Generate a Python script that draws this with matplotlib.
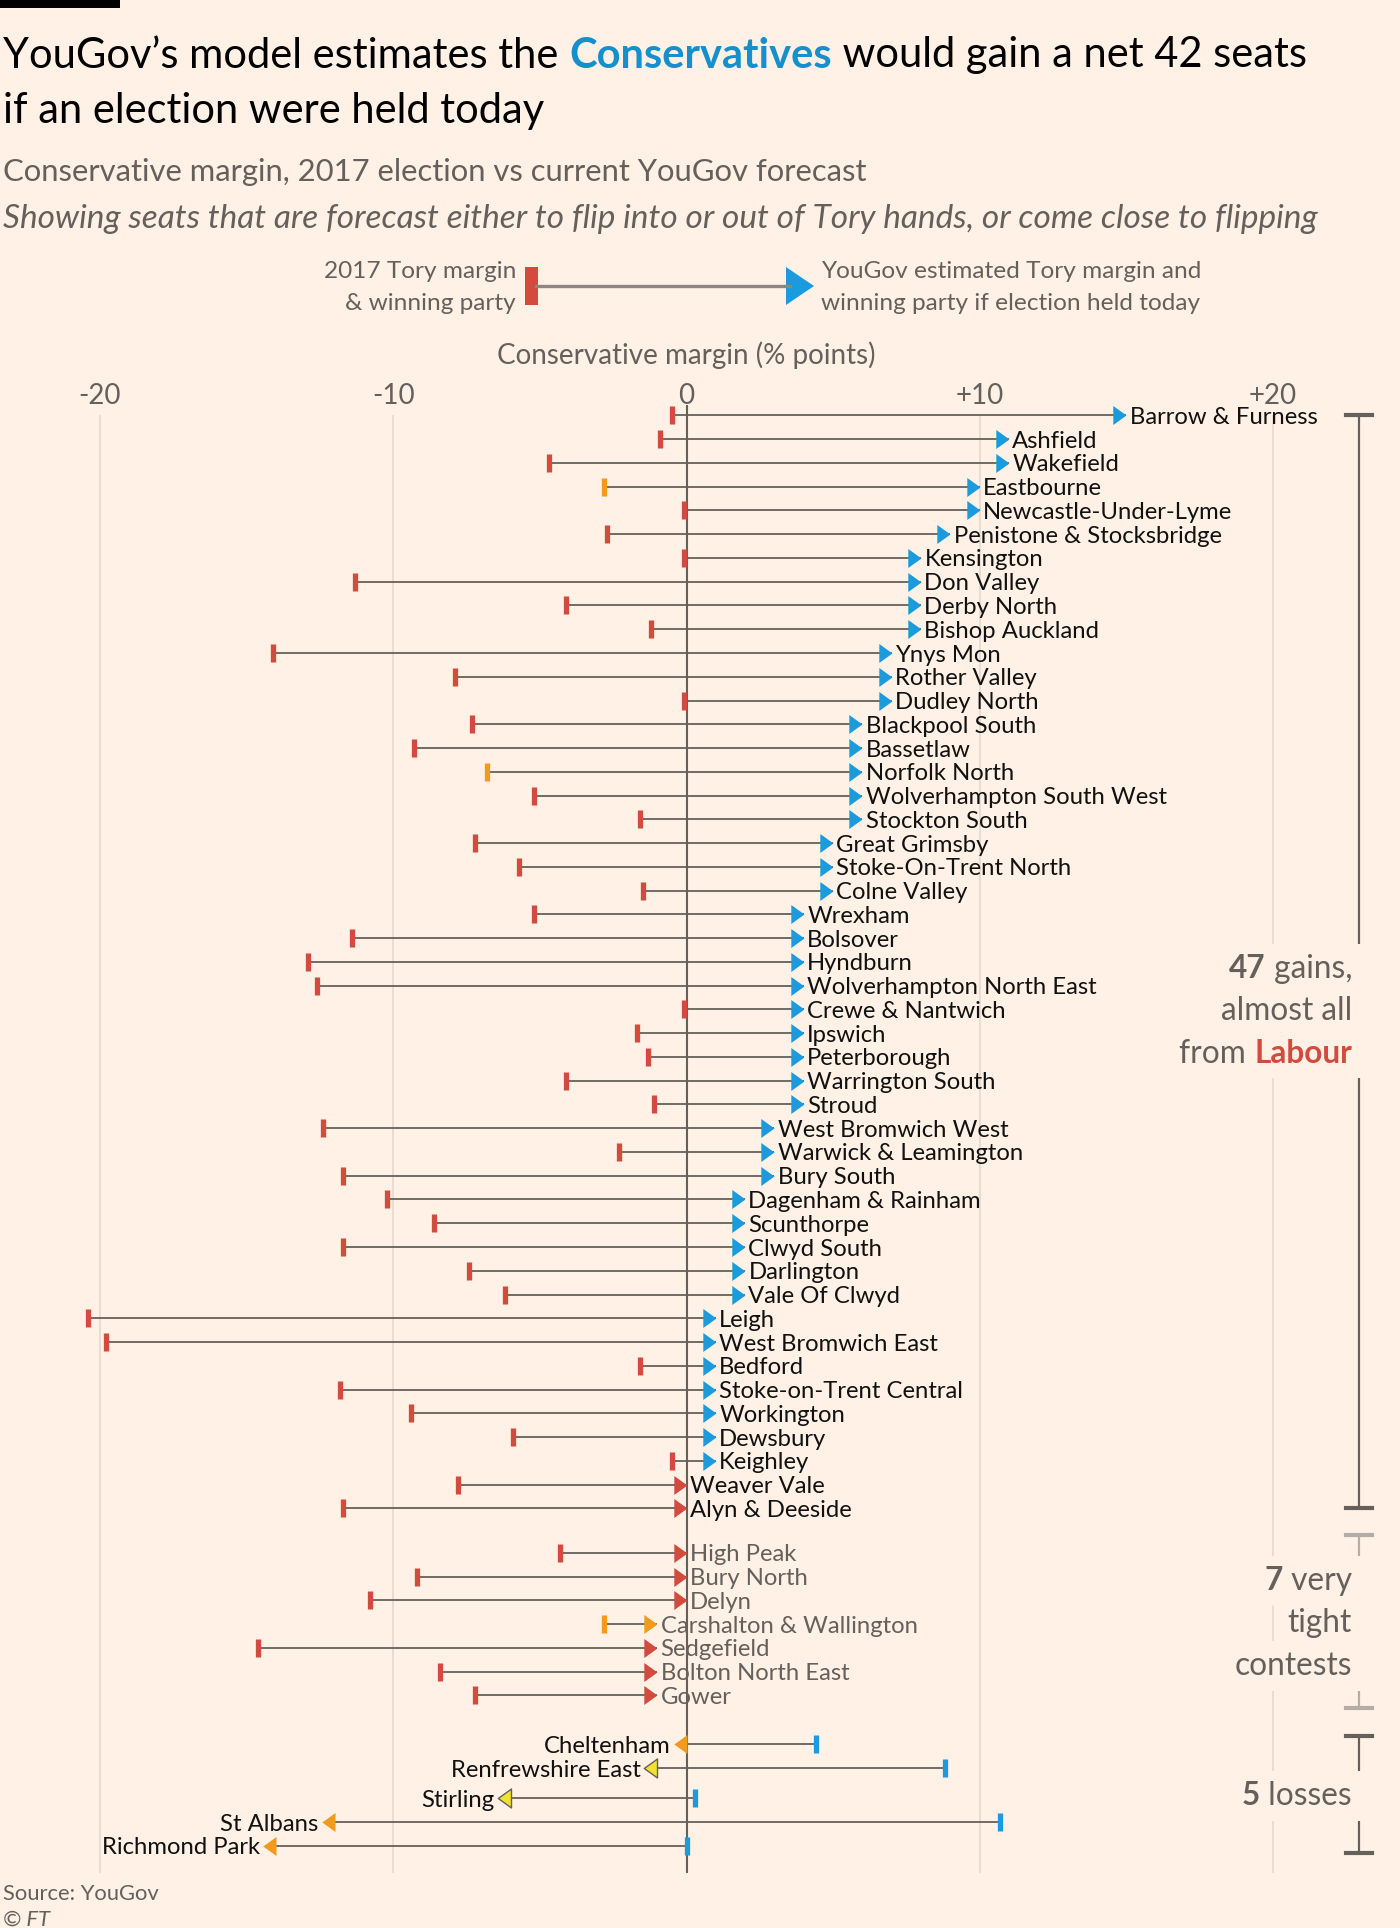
import matplotlib
matplotlib.use("Agg")
import matplotlib.pyplot as plt
from matplotlib.lines import Line2D
from matplotlib.patches import Rectangle, Polygon
from matplotlib.path import Path
from matplotlib.transforms import blended_transform_factory

plt.rcParams["font.family"] = ["Lato", "DejaVu Sans"]

# seats, 2017 Tory margin and YouGov margin now (% points)
seats = [
    "Barrow & Furness", "Ashfield", "Wakefield", "Eastbourne", "Newcastle-Under-Lyme",
    "Penistone & Stocksbridge", "Kensington", "Don Valley", "Derby North", "Bishop Auckland",
    "Ynys Mon", "Rother Valley", "Dudley North", "Blackpool South", "Bassetlaw",
    "Norfolk North", "Wolverhampton South West", "Stockton South", "Great Grimsby",
    "Stoke-On-Trent North", "Colne Valley", "Wrexham", "Bolsover", "Hyndburn",
    "Wolverhampton North East", "Crewe & Nantwich", "Ipswich", "Peterborough",
    "Warrington South", "Stroud", "West Bromwich West", "Warwick & Leamington",
    "Bury South", "Dagenham & Rainham", "Scunthorpe", "Clwyd South", "Darlington",
    "Vale Of Clwyd", "Leigh", "West Bromwich East", "Bedford", "Stoke-on-Trent Central",
    "Workington", "Dewsbury", "Keighley", "Weaver Vale", "Alyn & Deeside",
    "High Peak", "Bury North", "Delyn", "Carshalton & Wallington", "Sedgefield",
    "Bolton North East", "Gower",
    "Cheltenham", "Renfrewshire East", "Stirling", "St Albans", "Richmond Park",
]
margin_2017 = [
    -0.5, -0.9, -4.7, -2.8, -0.1, -2.7, -0.1, -11.3, -4.1, -1.2,
    -14.1, -7.9, -0.1, -7.3, -9.3, -6.8, -5.2, -1.6, -7.2, -5.7,
    -1.5, -5.2, -11.4, -12.9, -12.6, -0.1, -1.7, -1.3, -4.1, -1.1,
    -12.4, -2.3, -11.7, -10.2, -8.6, -11.7, -7.4, -6.2, -20.4, -19.8,
    -1.6, -11.8, -9.4, -5.9, -0.5, -7.8, -11.7,
    -4.3, -9.2, -10.8, -2.8, -14.6, -8.4, -7.2,
    4.4, 8.8, 0.3, 10.7, 0.0,
]
margin_now = [
    15, 11, 11, 10, 10, 9, 8, 8, 8, 8,
    7, 7, 7, 6, 6, 6, 6, 6, 5, 5,
    5, 4, 4, 4, 4, 4, 4, 4, 4, 4,
    3, 3, 3, 2, 2, 2, 2, 2, 1, 1,
    1, 1, 1, 1, 1, 0, 0,
    0, 0, 0, -1, -1, -1, -1,
    0, -1, -6, -12, -14,
]
party_2017 = (["Lab"] * 3 + ["LD"] + ["Lab"] * 11 + ["LD"] + ["Lab"] * 31
              + ["Lab"] * 3 + ["LD"] + ["Lab"] * 3
              + ["Con"] * 5)
party_now = (["Con"] * 45 + ["Lab"] * 2
             + ["Lab"] * 3 + ["LD"] + ["Lab"] * 3
             + ["LD", "SNP", "SNP", "LD", "LD"])
group = ["gain"] * 47 + ["tight"] * 7 + ["loss"] * 5

tick_values = [-20, -10, 0, 10, 20]
tick_labels = ["-20", "-10", "0", "+10", "+20"]

BG = "#fff1e5"
GREY = "#66605c"
GRID = "#e3d8ce"
INK = "#111111"
colours = {"Con": "#1c9ade", "Lab": "#d24b3e", "LD": "#f29a1c", "SNP": "#f4e12c"}
LABEL_SIZE = 17.2

W, H = 1400, 1928
fig = plt.figure(figsize=(W / 100, H / 100), dpi=100, facecolor=BG)


def fx(px):
    return px / W


def fy(py):
    return 1 - py / H


# axes layout in pixels
ZERO_PX, UNIT_PX = 686.5, 29.325
ROW0_PX, ROW_PX = 415.4, 23.76
AX_TOP, AX_BOT = 405, 1873
ax = fig.add_axes([0, fy(AX_BOT), 1, (AX_BOT - AX_TOP) / H])
ax.set_facecolor("none")
ax.set_xlim(-ZERO_PX / UNIT_PX, (W - ZERO_PX) / UNIT_PX)
ax.set_ylim((AX_BOT - ROW0_PX) / ROW_PX, (AX_TOP - ROW0_PX) / ROW_PX)
for s in ax.spines.values():
    s.set_visible(False)
ax.set_xticks([])
ax.set_yticks([])

# row positions with gaps between groups
group_gap = {"tight": 0.87, "loss": 1.06}
extra_gap = {"Stirling": 0.28}
pos = []
y = 0.0
for i, g in enumerate(group):
    if i > 0:
        y += 1.0
        if g != group[i - 1]:
            y += group_gap[g]
        y += extra_gap.get(seats[i], 0)
    pos.append(y)

# grid
ax.vlines([v for v in tick_values if v != 0], -0.02, ax.get_ylim()[0], color=GRID, lw=1.1, zorder=1)
ax.axvline(0, color=GREY, lw=1.5, zorder=2)
tb = blended_transform_factory(ax.transData, fig.transFigure)
for v, lab in zip(tick_values, tick_labels):
    ax.text(v, fy(393), lab, transform=tb, ha="center", va="center_baseline",
            fontsize=20, color=GREY)
fig.text(fx(ZERO_PX), fy(353), "Conservative margin (% points)", ha="center",
         va="center_baseline", fontsize=20, color=GREY)

tri_right = Path([(0, 0), (-1, 0.72), (-1, -0.72), (0, 0)],
                 [Path.MOVETO, Path.LINETO, Path.LINETO, Path.CLOSEPOLY])
tri_left = Path([(0, 0.72), (0, -0.72), (-1, 0), (0, 0.72)],
                [Path.MOVETO, Path.LINETO, Path.LINETO, Path.CLOSEPOLY])

for yy, name, a, b, p0, p1, g in zip(pos, seats, margin_2017, margin_now,
                                     party_2017, party_now, group):
    ax.plot([a, b], [yy, yy], color=GREY, lw=1.3, zorder=3, solid_capstyle="butt")
    ax.plot(a, yy, marker="|", ms=13.5, mew=3.8, color=colours[p0], zorder=5)
    edge = GREY if p1 == "SNP" else "none"
    lcol = GREY if g == "tight" else INK
    if b >= a:
        ax.plot(b, yy, marker=tri_right, ms=19, color=colours[p1], mec=edge, mew=1, zorder=6)
        ax.annotate(name, (b, yy), xytext=(2.4, 0), textcoords="offset points",
                    ha="left", va="center_baseline", fontsize=LABEL_SIZE, color=lcol, zorder=7)
    else:
        ax.plot(b, yy, marker=tri_left, ms=19, color=colours[p1], mec=edge, mew=1, zorder=6)
        ax.annotate(name, (b, yy), xytext=(-11.5, 0), textcoords="offset points",
                    ha="right", va="center_baseline", fontsize=LABEL_SIZE, color=lcol, zorder=7)


def runs(x, y, parts, ha="left", box=False, **kw):
    # lay out differently styled pieces of one line side by side
    r = fig.canvas.get_renderer()
    widths = []
    for s, style in parts:
        props = {**kw, **style}
        t1 = fig.text(0, 0, s + "|", **props)
        t2 = fig.text(0, 0, "|", **props)
        widths.append(t1.get_window_extent(r).width - t2.get_window_extent(r).width)
        t1.remove()
        t2.remove()
    x0 = x - sum(widths) if ha == "right" else x
    for (s, style), w in zip(parts, widths):
        props = {**kw, **style}
        if box:
            fig.text(fx(x0), fy(y), s, ha="left", va="center_baseline",
                     **{**props, "color": (0, 0, 0, 0)}, zorder=2,
                     bbox=dict(fc=BG, ec="none", pad=7))
        fig.text(fx(x0), fy(y), s, ha="left", va="center_baseline", zorder=3, **props)
        x0 += w


# top rule and title
fig.add_artist(Rectangle((0, fy(8)), fx(120), 8 / H, transform=fig.transFigure,
                         color="black", lw=0))
runs(3, 52, [("YouGov’s model estimates the ", {}),
             ("Conservatives", {"color": "#168fcd", "fontweight": "bold"}),
             (" would gain a net 42 seats", {})], fontsize=30, color="black")
runs(3, 108, [("if an election were held today", {})], fontsize=30, color="black")
fig.text(fx(3), fy(170), "Conservative margin, 2017 election vs current YouGov forecast",
         fontsize=22.3, color=GREY, va="center_baseline")
fig.text(fx(3), fy(216), "Showing seats that are forecast either to flip into or out of "
         "Tory hands, or come close to flipping", fontsize=24, color=GREY,
         style="italic", va="center_baseline")

# key
fig.text(fx(516), fy(270), "2017 Tory margin", ha="right", va="center_baseline",
         fontsize=17.6, color=GREY)
fig.text(fx(516), fy(302), "& winning party", ha="right", va="center_baseline",
         fontsize=17.6, color=GREY)
fig.add_artist(Line2D([fx(536), fx(790)], [fy(286), fy(286)], transform=fig.transFigure,
                      color="#8d8681", lw=2.4))
fig.add_artist(Rectangle((fx(525), fy(305)), 13 / W, 38 / H, transform=fig.transFigure,
                         color=colours["Lab"], lw=0))
fig.add_artist(Polygon([(fx(786), fy(267)), (fx(786), fy(305)), (fx(814), fy(286))],
                       closed=True, transform=fig.transFigure, color=colours["Con"], lw=0))
fig.text(fx(821), fy(270), "YouGov estimated Tory margin and", va="center_baseline",
         fontsize=17.6, color=GREY)
fig.text(fx(821), fy(302), "winning party if election held today", va="center_baseline",
         fontsize=17.6, color=GREY)

# brackets on the right
bt = blended_transform_factory(fig.transFigure, ax.transData)
gi = [i for i, g in enumerate(group) if g == "gain"]
ti = [i for i, g in enumerate(group) if g == "tight"]
li = [i for i, g in enumerate(group) if g == "loss"]
spans = [(pos[gi[0]], pos[gi[-1]], GREY),
         (pos[ti[0]] - 0.75, pos[ti[-1]] + 0.55, "#b3aca7"),
         (pos[li[0]] - 0.33, pos[li[-1]] + 0.3, GREY)]
BX = 1359
for y0, y1, c in spans:
    fig.add_artist(Line2D([fx(BX), fx(BX)], [y0, y1], transform=bt, color=c, lw=1.6))
    for yy in (y0, y1):
        fig.add_artist(Line2D([fx(BX - 13), fx(BX + 13)], [yy, yy], transform=bt,
                              color=c, lw=3))

bold = {"fontweight": "bold"}
ANN = 22.8
runs(1352, 966, [("47", bold), (" gains,", {})], ha="right", box=True, fontsize=ANN, color=GREY)
runs(1352, 1008, [("almost all", {})], ha="right", box=True, fontsize=ANN, color=GREY)
runs(1352, 1051, [("from ", {}), ("Labour", {"fontweight": "bold", "color": colours["Lab"]})],
     ha="right", box=True, fontsize=ANN, color=GREY)
runs(1352, 1578, [("7", bold), (" very", {})], ha="right", box=True, fontsize=ANN, color=GREY)
runs(1352, 1620, [("tight", {})], ha="right", box=True, fontsize=ANN, color=GREY)
runs(1352, 1663, [("contests", {})], ha="right", box=True, fontsize=ANN, color=GREY)
runs(1352, 1793, [("5", bold), (" losses", {})], ha="right", box=True, fontsize=ANN, color=GREY)

# source
fig.text(fx(3), fy(1892), "Source: YouGov", fontsize=15.8, color=GREY, va="center_baseline")
fig.text(fx(3), fy(1918), "© FT", fontsize=15.8, color=GREY, style="italic",
         va="center_baseline")

fig.savefig("out.png", dpi=100, facecolor=BG)
